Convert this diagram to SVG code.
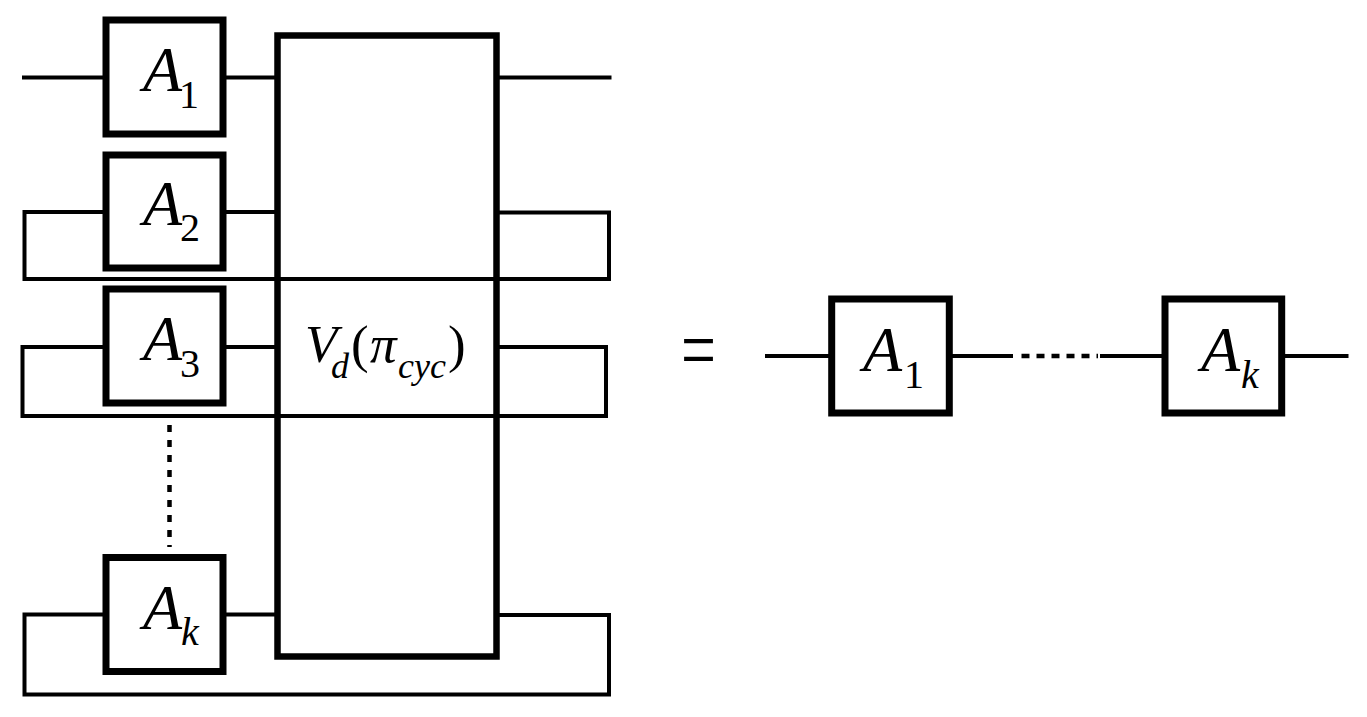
<svg xmlns="http://www.w3.org/2000/svg" width="1367" height="717" viewBox="0 0 1367 717">
<rect width="1367" height="717" fill="#fff"/>
<g id="V">
<rect x="277.5" y="35.5" width="219" height="621" fill="none" stroke="#000" stroke-width="6.5"/>
<text x="305" y="362" font-family="Liberation Serif" font-size="53" font-style="italic">V</text>
<text x="331" y="378" font-family="Liberation Serif" font-size="36" font-style="italic">d</text>
<text x="351" y="362" font-family="Liberation Serif" font-size="53">(</text>
<text x="370" y="362" font-family="Liberation Serif" font-size="53" font-style="italic">π</text>
<text x="398" y="378" font-family="Liberation Serif" font-size="36" font-style="italic">cyc</text>
<text x="448" y="362" font-family="Liberation Serif" font-size="53">)</text>
</g>
<g id="connectors" fill="none" stroke="#000" stroke-width="4">
<path d="M22 77.5H106M223 77.5H277.5M496.5 77.5H611.5"/>
<path d="M106 212H24.5V279H609V212.5H496.5M223 212H277.5"/>
<path d="M106 347H22.5V416H606V347H496.5M223 347H277.5"/>
<path d="M106 614.5H24.5V694.5H609V615H496.5M223 614.5H277.5"/>
<path d="M169.5 425V547" stroke-width="4.5" stroke-dasharray="7 8"/>
<path d="M765 356H831.7M949.3 356H1013M1100 356H1165M1281.7 356H1348.5"/>
<path d="M1021.5 356H1098" stroke-width="4.5" stroke-dasharray="8 7"/>
</g>
<g id="A1">
<rect x="106" y="20" width="117" height="114" fill="#fff" stroke="#000" stroke-width="7"/>
<text x="143" y="91" font-family="Liberation Serif" font-size="64" font-style="italic">A</text>
<text x="179" y="107.5" font-family="Liberation Serif" font-size="40">1</text>
</g>
<g id="A2">
<rect x="106" y="155" width="117" height="113" fill="#fff" stroke="#000" stroke-width="7"/>
<text x="143" y="224.5" font-family="Liberation Serif" font-size="64" font-style="italic">A</text>
<text x="180" y="241" font-family="Liberation Serif" font-size="40">2</text>
</g>
<g id="A3">
<rect x="106" y="289" width="117" height="114" fill="#fff" stroke="#000" stroke-width="7"/>
<text x="143" y="360" font-family="Liberation Serif" font-size="64" font-style="italic">A</text>
<text x="180" y="377" font-family="Liberation Serif" font-size="40">3</text>
</g>
<g id="Ak">
<rect x="106" y="557.5" width="117" height="114" fill="#fff" stroke="#000" stroke-width="7"/>
<text x="143" y="628.5" font-family="Liberation Serif" font-size="64" font-style="italic">A</text>
<text x="181" y="645" font-family="Liberation Serif" font-size="40" font-style="italic">k</text>
</g>
<g id="eq">
<text transform="translate(681,378.6) scale(1,1.4)" x="0" y="0" font-family="Liberation Serif" font-size="62">=</text>
</g>
<g id="A1r">
<rect x="831.7" y="299" width="117.6" height="114" fill="#fff" stroke="#000" stroke-width="7"/>
<text x="863" y="371" font-family="Liberation Serif" font-size="64" font-style="italic">A</text>
<text x="904" y="387.5" font-family="Liberation Serif" font-size="40">1</text>
</g>
<g id="Akr">
<rect x="1165" y="299" width="116.7" height="114" fill="#fff" stroke="#000" stroke-width="7"/>
<text x="1201" y="371" font-family="Liberation Serif" font-size="64" font-style="italic">A</text>
<text x="1241" y="387.5" font-family="Liberation Serif" font-size="40" font-style="italic">k</text>
</g>
</svg>
